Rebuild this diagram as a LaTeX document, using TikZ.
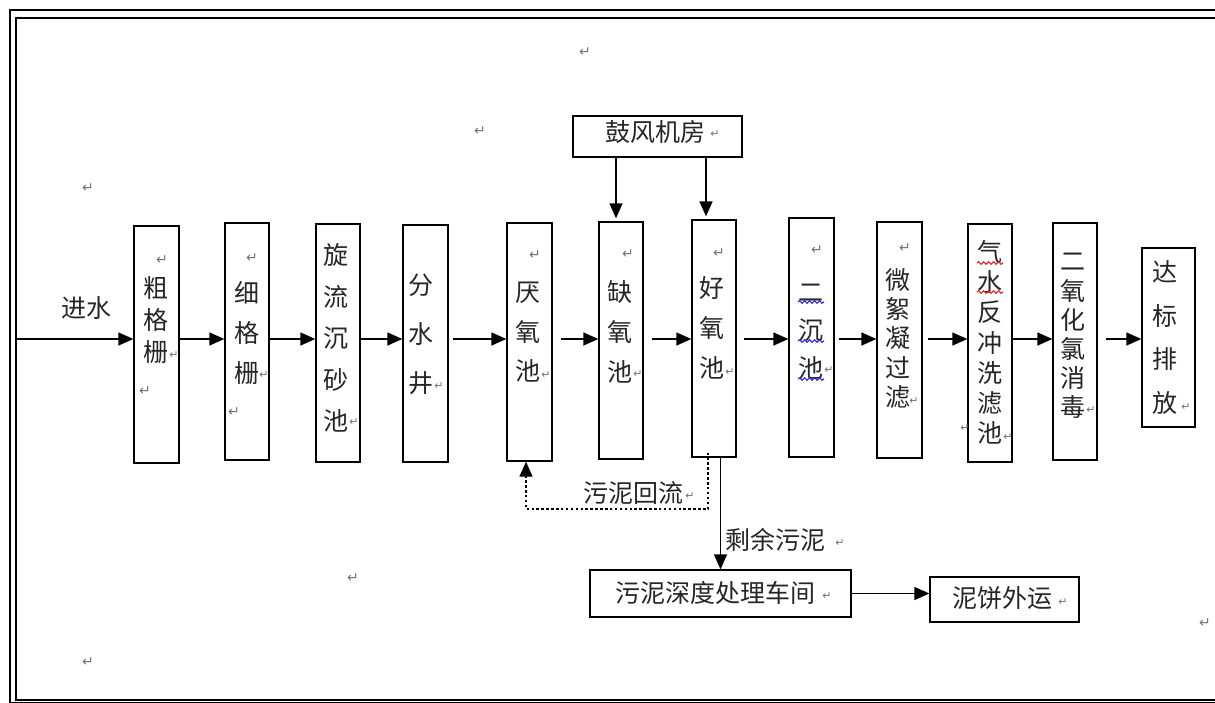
\documentclass[tikz,border=0pt]{standalone}
\usepackage{fontspec}
\newfontfamily\cjk{Noto Sans CJK SC}
\newfontfamily\symf{DejaVu Sans}
\usetikzlibrary{arrows.meta,decorations.pathmorphing}
\definecolor{markgrey}{RGB}{115,115,115}
\definecolor{wavyblue}{RGB}{40,40,225}
\definecolor{wavyred}{RGB}{230,30,30}
\tikzset{
  box/.style={draw, line width=1.3pt, inner sep=0pt},
  ch/.style={font=\cjk\fontsize{25}{25}\selectfont, inner sep=0pt, text=black!85},
  lbl/.style={font=\cjk\fontsize{25}{25}\selectfont, inner sep=0pt, text=black!85},
  flow/.style={line width=1.3pt, -{Triangle[length=15pt,width=13pt]}},
  pm/.style={font=\symf\fontsize{14}{14}\selectfont, text=markgrey, inner sep=0pt},
  pms/.style={font=\symf\fontsize{11}{11}\selectfont, text=markgrey, inner sep=0pt},
  wavy/.style={decorate, decoration={snake, amplitude=1.3pt, segment length=5pt}, line width=1.1pt},
  frame/.style={line width=2pt},
}
\newcommand\charcol[5]{%
  \foreach \c [count=\i] in {#5}{\node[ch] (#1\i) at (#2,{#3+(\i-1)*#4}) {\c};}}
\begin{document}
\begin{tikzpicture}[x=1pt,y=-1pt]
\clip (0,0) rectangle (1215,702);
\fill[white] (0,0) rectangle (1215,702);
% frame
\draw[frame] (10,10) rectangle (1240,703);
\draw[frame] (16,18) rectangle (1240,699.5);
% boxes
\node[box, minimum width=45pt, minimum height=237pt] (b1) at (156.5,344.5) {};
\node[box, minimum width=44pt, minimum height=237pt] (b2) at (247,341.5) {};
\node[box, minimum width=44pt, minimum height=238pt] (b3) at (338,343) {};
\node[box, minimum width=45pt, minimum height=237pt] (b4) at (425.5,343.5) {};
\node[box, minimum width=45pt, minimum height=238pt] (b5) at (529.5,342) {};
\node[box, minimum width=44pt, minimum height=237pt] (b6) at (621,340.5) {};
\node[box, minimum width=44pt, minimum height=237pt] (b7) at (714,338.5) {};
\node[box, minimum width=45pt, minimum height=239pt] (b8) at (811.5,337.5) {};
\node[box, minimum width=45pt, minimum height=236pt] (b9) at (899.5,340) {};
\node[box, minimum width=44pt, minimum height=238pt] (b10) at (990,343) {};
\node[box, minimum width=44pt, minimum height=237pt] (b11) at (1075,341.5) {};
\node[box, minimum width=53pt, minimum height=179pt] (b12) at (1168.5,337.5) {};
\node[box, minimum width=169pt, minimum height=41pt] (blower) at (657.5,136.5) {};
\node[box, minimum width=261pt, minimum height=47pt] (sludge) at (720.5,593.5) {};
\node[box, minimum width=149pt, minimum height=45pt] (cake) at (1004.5,599.5) {};
% box texts
\charcol{t1-}{156}{288}{32}{粗,格,栅}
\charcol{t2-}{247}{293}{40}{细,格,栅}
\charcol{t3-}{336}{255}{41.5}{旋,流,沉,砂,池}
\charcol{t4-}{421}{285}{49}{分,水,井}
\charcol{t5-}{528}{293}{39}{厌,氧,池}
\charcol{t6-}{620}{292}{40}{缺,氧,池}
\charcol{t7-}{712}{288}{40}{好,氧,池}
\charcol{t8-}{811}{293}{37.5}{二,沉,池}
\charcol{t9-}{898}{280}{29.25}{微,絮,凝,过,滤}
\charcol{t10-}{990}{252}{30.2}{气,水,反,冲,洗,滤,池}
\charcol{t11-}{1073}{262}{29}{二,氧,化,氯,消,毒}
\charcol{t12-}{1165}{272}{43.7}{达,标,排,放}
\node[lbl] (tb) at (655,132) {鼓风机房};
\node[lbl] (ts) at (715,593) {污泥深度处理车间};
\node[lbl] (tc) at (1002,598) {泥饼外运};
\node[lbl] (tin) at (86,308) {进水};
\node[lbl] (tret) at (633,493) {污泥回流};
\node[lbl] (trem) at (775,540) {剩余污泥};
% wavy underlines
\draw[wavy, wavyblue] (798,302) -- (824,302);
\draw[wavy, wavyblue] (798,341) -- (824,341);
\draw[wavy, wavyblue] (798,379) -- (824,379);
\draw[wavy, wavyred] (977,263) -- (1003,263);
\draw[wavy, wavyred] (977,292) -- (1003,292);
% connectors
\coordinate (ly) at (0,339);
\coordinate (inlet) at (16,339);
\draw[flow] (inlet) -- (b1.west |- ly);
\draw[flow] (b1.east |- ly) -- (b2.west |- ly);
\draw[flow] (b2.east |- ly) -- (b3.west |- ly);
\draw[flow] (b3.east |- ly) -- (b4.west |- ly);
\draw[flow] ([xshift=4pt]b4.east |- ly) -- (b5.west |- ly);
\draw[flow] ([xshift=8pt]b5.east |- ly) -- (b6.west |- ly);
\draw[flow] ([xshift=8pt]b6.east |- ly) -- (b7.west |- ly);
\draw[flow] ([xshift=7pt]b7.east |- ly) -- (b8.west |- ly);
\draw[flow] ([xshift=4pt]b8.east |- ly) -- (b9.west |- ly);
\draw[flow] ([xshift=5pt]b9.east |- ly) -- (b10.west |- ly);
\draw[flow] (b10.east |- ly) -- (b11.west |- ly);
\draw[flow] ([xshift=8pt]b11.east |- ly) -- (b12.west |- ly);
\draw[flow] ([xshift=-5pt]b6.north |- blower.south) -- ([xshift=-5pt,yshift=3pt]b6.north);
\draw[flow] ([xshift=-8pt]b7.north |- blower.south) -- ([xshift=-8pt,yshift=3pt]b7.north);
\coordinate (dl) at (0,509);
\draw[line width=2.5pt, dash pattern=on 2.5pt off 2.4pt] ([xshift=-6pt,yshift=5pt]b7.south) -- ([xshift=-6pt]b7.south |- dl) -- ([xshift=-3.5pt]b5.south |- dl) -- ([xshift=-3.5pt,yshift=-12pt]b5.south);
\draw[flow] ([xshift=-3.5pt,yshift=-12pt]b5.south) -- ([xshift=-3.5pt]b5.south);
\draw[flow] (sludge.north |- b7.south) -- (sludge.north);
\draw[flow] (sludge.east) -- (sludge.east -| cake.west);
% paragraph marks
\node[pm] (m1) at (585,52) {↵};
\node[pm] (m2) at (480,131) {↵};
\node[pm] (m3) at (88,188) {↵};
\node[pm] (m4) at (353,578) {↵};
\node[pm] (m5) at (88,662) {↵};
\node[pm] (m6) at (1205,623) {↵};
\node[pm] (m7) at (162,260) {↵};
\node[pm] (m8) at (252,258) {↵};
\node[pm] (m9) at (535,255) {↵};
\node[pm] (m10) at (628,254) {↵};
\node[pm] (m11) at (719,253) {↵};
\node[pm] (m12) at (817,250) {↵};
\node[pm] (m13) at (905,248) {↵};
\node[pm] (m14) at (145,391) {↵};
\node[pm] (m15) at (234,412) {↵};
\node[pms] (s1) at (174,355) {↵};
\node[pms] (s2) at (264,375) {↵};
\node[pms] (s3) at (354,422) {↵};
\node[pms] (s4) at (439,386) {↵};
\node[pms] (s5) at (546,375) {↵};
\node[pms] (s6) at (638,374) {↵};
\node[pms] (s7) at (730,372) {↵};
\node[pms] (s8) at (829,370) {↵};
\node[pms] (s9) at (914,401) {↵};
\node[pms] (s10) at (1008,437) {↵};
\node[pms] (s11) at (965,428) {↵};
\node[pms] (s12) at (1091,410) {↵};
\node[pms] (s13) at (1186,407) {↵};
\node[pms] (s14) at (715,134) {↵};
\node[pms] (s15) at (690,496) {↵};
\node[pms] (s16) at (840,543) {↵};
\node[pms] (s17) at (827,596) {↵};
\node[pms] (s18) at (1063,602) {↵};
\end{tikzpicture}
\end{document}
